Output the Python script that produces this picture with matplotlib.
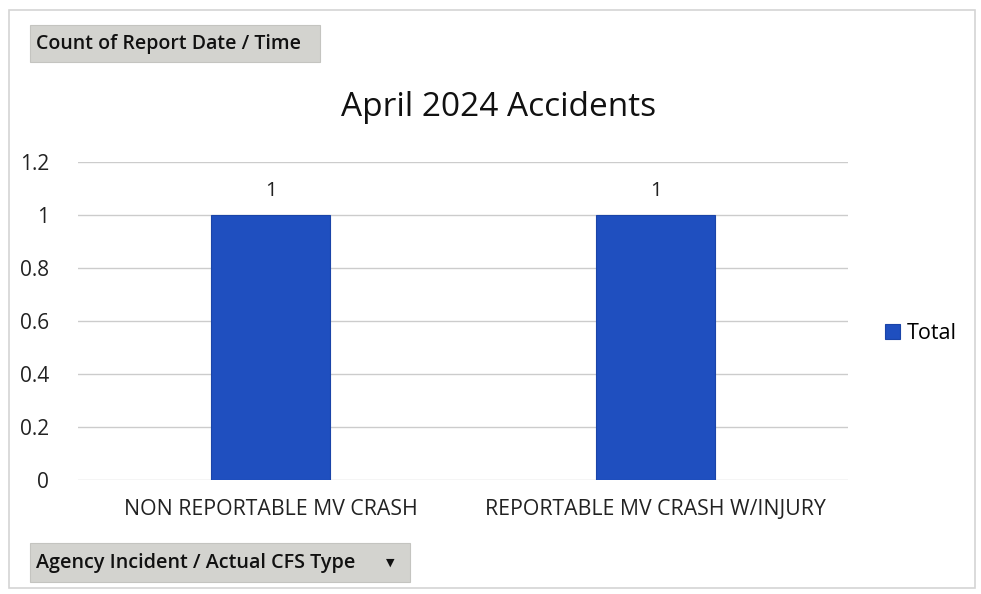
import matplotlib.pyplot as plt
from matplotlib.patches import Rectangle

categories = ["NON REPORTABLE MV CRASH", "REPORTABLE MV CRASH W/INJURY"]
totals = [1, 1]
yticks = [0, 0.2, 0.4, 0.6, 0.8, 1, 1.2]
ytick_labels = ["0", "0.2", "0.4", "0.6", "0.8", "1", "1.2"]

plt.rcParams['font.family'] = ['Open Sans', 'DejaVu Sans']

fig = plt.figure(figsize=(9.81, 5.94), dpi=100)
ax = fig.add_axes([0.0795, 0.192, 0.785, 0.535])

bar_color = '#1f4fbf'
bars = ax.bar(range(len(categories)), totals, width=0.307, color=bar_color,
              edgecolor='#1a44a8', linewidth=0.8, label='Total', zorder=3)
for b, v in zip(bars, totals):
    ax.text(b.get_x() + b.get_width() / 2, v + 0.055, str(v), ha='center', va='bottom',
            fontsize=14.5, color='#222222')

ax.set_xlim(-0.5, len(categories) - 0.5)
ax.set_ylim(0, 1.2)
ax.set_yticks(yticks)
ax.set_yticklabels(ytick_labels, fontsize=15, color='#222222')
ax.set_xticks(range(len(categories)))
ax.set_xticklabels(categories, fontsize=15.3, color='#222222')
ax.tick_params(axis='y', length=0, pad=21)
ax.tick_params(axis='x', length=0, pad=14)
ax.grid(axis='y', color='#cccccc', linewidth=1, zorder=0)
for s in ax.spines.values():
    s.set_visible(False)

fig.text(0.508, 1 - 107 / 594, "April 2024 Accidents", ha='center', va='center', fontsize=24, color='#111111')

leg = ax.legend(loc='center left', bbox_to_anchor=(1.023, 0.462), frameon=False,
                fontsize=15.5, handlelength=0.7, handleheight=0.7, handletextpad=0.3)

# outer chart border
fig.patches.append(Rectangle((9 / 981, 1 - 588 / 594), 966 / 981, 578 / 594, transform=fig.transFigure,
                             fill=False, edgecolor='#d4d4d4', linewidth=1.2))

# pivot field buttons
fig.patches.append(Rectangle((30 / 981, 1 - 62 / 594), 290 / 981, 37 / 594, transform=fig.transFigure,
                             facecolor='#d3d3cf', edgecolor='#c4c4c0', linewidth=0.8))
fig.text(36 / 981, 1 - 44 / 594, "Count of Report Date / Time", ha='left', va='center',
         fontsize=14, color='#111111', fontweight='semibold')
fig.patches.append(Rectangle((30 / 981, 1 - 582 / 594), 380 / 981, 39 / 594, transform=fig.transFigure,
                             facecolor='#d3d3cf', edgecolor='#c4c4c0', linewidth=0.8))
fig.text(36 / 981, 1 - 563 / 594, "Agency Incident / Actual CFS Type", ha='left', va='center',
         fontsize=14.2, color='#111111', fontweight='semibold')
fig.text(390 / 981, 1 - 563 / 594, "\u25BC", ha='center', va='center', fontsize=8, color='#111111')

fig.savefig("out.png", dpi=100)
